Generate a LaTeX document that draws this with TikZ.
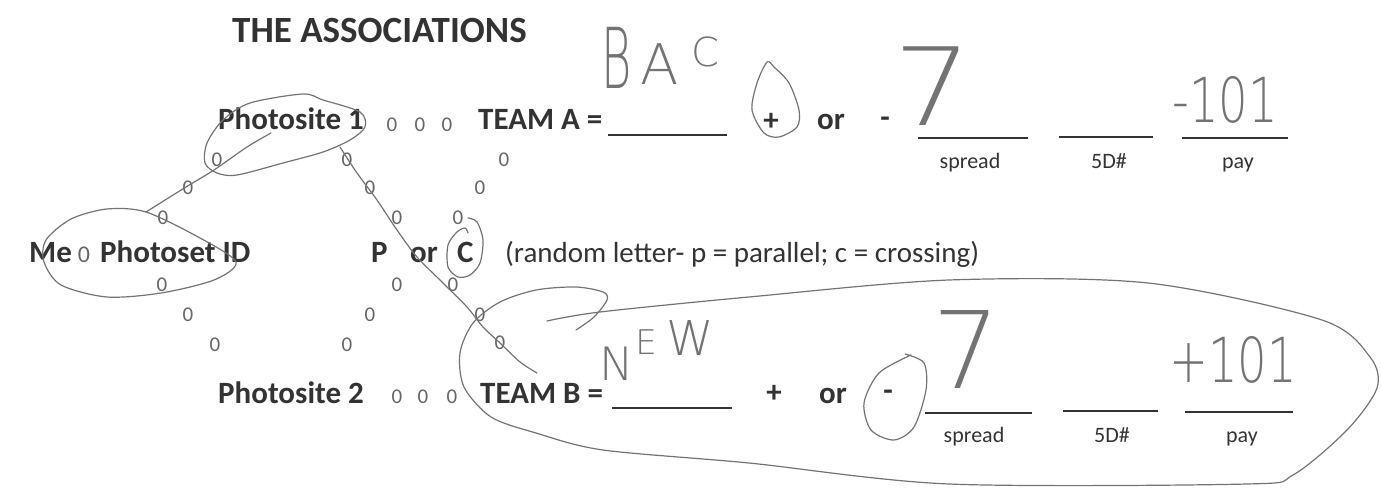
\documentclass[tikz,border=0pt]{standalone}
\usepackage{fontspec}
\setmainfont{Carlito}
\newfontfamily\penfont{DejaVuSans-ExtraLight.ttf}

\definecolor{ink}{gray}{0.2}
\definecolor{zeroink}{gray}{0.4}
\definecolor{pen}{gray}{0.45}

\begin{document}
\begin{tikzpicture}[x=1pt, y=-1pt,
   lbl/.style={anchor=base west, inner sep=0pt, text=ink, font=\bfseries\fontsize{31}{34}\selectfont},
   zerotxt/.style={inner sep=0pt, text=zeroink, font=\fontsize{21}{24}\selectfont},
   sublbl/.style={anchor=base, inner sep=0pt, text=ink, font=\fontsize{22}{24}\selectfont},
   blankline/.style={draw=ink, line width=1.3pt},
   handtxt/.style={inner sep=0pt, text=pen},
   penline/.style={draw=pen, line width=1.2pt, line cap=round, line join=round}]
   \useasboundingbox (0,0) rectangle (1381,489);

   \node[lbl, font=\bfseries\fontsize{37}{40}\selectfont] (title) at (232,43) {THE ASSOCIATIONS};

   %row team a
   \node[lbl] (site1) at (218,130) {Photosite 1};
   \node[zerotxt] (s1a) at (392,125) {0};
   \node[zerotxt] (s1b) at (420,125) {0};
   \node[zerotxt] (s1c) at (447,125) {0};
   \node[lbl] (teamA) at (478,130) {TEAM A =};
   \node[lbl, anchor=center] (plusA) at (771,122) {+};
   \node[lbl] (orA) at (817,130) {or};
   \node[lbl, anchor=center] (minusA) at (885,122) {-};
   \draw[blankline] (608,135) -- (727,135);
   \draw[blankline, line width=2.2pt] (918,138) -- (1028,138);
   \draw[blankline] (1059,137) -- (1153,137);
   \draw[blankline] (1182,138) -- (1288,138);
   \node[sublbl] (spreadA) at (970,169) {spread};
   \node[sublbl] (sdA) at (1109,169) {5D\#};
   \node[sublbl] (payA) at (1238,169) {pay};

   %chains between photosite 1 and middle row
   \node[zerotxt] (ul1) at (217,160) {0};
   \node[zerotxt] (ul2) at (188,188) {0};
   \node[zerotxt] (ul3) at (163,218) {0};
   \node[zerotxt] (um1) at (347,160) {0};
   \node[zerotxt] (um2) at (370,188) {0};
   \node[zerotxt] (um3) at (397,218) {0};
   \node[zerotxt] (ur1) at (504,160) {0};
   \node[zerotxt] (ur2) at (480,188) {0};
   \node[zerotxt] (ur3) at (458,218) {0};

   %middle row
   \node[lbl] (me) at (29,262) {Me};
   \node[zerotxt, anchor=base, font=\fontsize{24}{26}\selectfont] (me0) at (84,262) {0};
   \node[lbl] (photoset) at (100,262) {Photoset ID};
   \node[lbl] (letP) at (371,262) {P};
   \node[lbl] (orC) at (410,262) {or};
   \node[lbl] (letC) at (457,262) {C};
   \node[lbl, font=\fontsize{29}{32}\selectfont] (legend) at (505,262) {(random letter- p = parallel; c = crossing)};

   %chains between middle row and photosite 2
   \node[zerotxt] (ll1) at (162,285) {0};
   \node[zerotxt] (ll2) at (188,315) {0};
   \node[zerotxt] (ll3) at (215,345) {0};
   \node[zerotxt] (lm1) at (397,285) {0};
   \node[zerotxt] (lm2) at (370,315) {0};
   \node[zerotxt] (lm3) at (347,345) {0};
   \node[zerotxt] (lr1) at (453,285) {0};
   \node[zerotxt] (lr2) at (480,315) {0};
   \node[zerotxt] (lr3) at (500,343) {0};

   %row team b
   \node[lbl] (site2) at (218,403) {Photosite 2};
   \node[zerotxt] (s2a) at (397,397) {0};
   \node[zerotxt] (s2b) at (423,397) {0};
   \node[zerotxt] (s2c) at (452,397) {0};
   \node[lbl] (teamB) at (480,403) {TEAM B =};
   \node[lbl, anchor=center] (plusB) at (774,394) {+};
   \node[lbl] (orB) at (819,403) {or};
   \node[lbl, anchor=center] (minusB) at (888,395) {-};
   \draw[blankline] (612,408) -- (732,408);
   \draw[blankline, line width=2.2pt] (925,413) -- (1032,413);
   \draw[blankline] (1063,411) -- (1158,411);
   \draw[blankline] (1185,412) -- (1293,412);
   \node[sublbl] (spreadB) at (974,442) {spread};
   \node[sublbl] (sdB) at (1112,442) {5D\#};
   \node[sublbl] (payB) at (1242,442) {pay};

   %handwriting
   \node[handtxt, font=\penfont\fontsize{84}{84}\selectfont, xscale=0.55] (bacB) at (617,58) {B};
   \node[handtxt, font=\penfont\fontsize{56}{56}\selectfont] (bacA) at (660,64) {A};
   \node[handtxt, font=\penfont\fontsize{40}{40}\selectfont] (bacC) at (705,52) {C};
   \node[handtxt, font=\penfont\fontsize{108}{108}\selectfont, xscale=1.15, anchor=base] (sevenA) at (933,126) {7};
   \node[handtxt, font=\penfont\fontsize{62}{62}\selectfont, xscale=0.75] (oddsA) at (1225,100) {-101};
   \node[handtxt, font=\penfont\fontsize{46}{46}\selectfont] (newN) at (617,364) {N};
   \node[handtxt, font=\penfont\fontsize{34}{34}\selectfont] (newE) at (646,342) {E};
   \node[handtxt, font=\penfont\fontsize{48}{48}\selectfont] (newW) at (690,338) {W};
   \node[handtxt, font=\penfont\fontsize{107}{107}\selectfont] (sevenB) at (967,349) {7};
   \node[handtxt, font=\penfont\fontsize{62}{62}\selectfont, xscale=0.75] (oddsB) at (1233,360) {+101};

   %pen loops
   \draw[penline] plot[smooth cycle] coordinates {(303,94) (250,103) (223,120) (207,143) (205,163)
      (217,173) (237,175) (283,163) (323,152) (350,140) (365,127) (360,112) (323,100)};
   \draw[penline] plot[smooth] coordinates {(271,133) (247,147) (214,170) (186,187) (146,212)};
   \draw[penline] plot[smooth cycle] coordinates {(146,212) (200,238) (236,262) (214,280) (161,293)
      (107,297) (61,285) (44,262) (46,240) (71,219) (107,209)};
   \draw[penline] plot[smooth] coordinates {(340,147) (357,173) (377,200) (397,230) (417,257)
      (443,283) (467,307) (483,327) (500,343) (520,362) (537,373)};
   \draw[penline] plot[smooth] coordinates {(468,233) (465,228) (457,232) (448,245) (448,267)
      (458,277) (470,275) (480,263) (483,240) (477,222) (468,218)};
   \draw[penline] plot[smooth cycle] coordinates {(767,62) (757,83) (752,110) (764,133) (779,137)
      (797,127) (799,110) (789,83) (774,67)};
   \draw[penline] plot[smooth] coordinates {(911,355) (879,373) (864,403) (871,430) (894,440)
      (914,427) (926,390) (924,363) (905,354)};
   \draw[penline] plot[smooth] coordinates {(547,321) (600,312) (749,297) (949,280) (1148,283)
      (1322,320) (1370,357) (1377,388) (1347,430) (1293,475) (1247,484) (949,484) (749,463)
      (603,450) (536,433) (491,417) (464,387) (460,353) (473,323) (500,302) (536,290)
      (576,287) (603,292) (607,300) (594,317) (576,330)};
\end{tikzpicture}
\end{document}
